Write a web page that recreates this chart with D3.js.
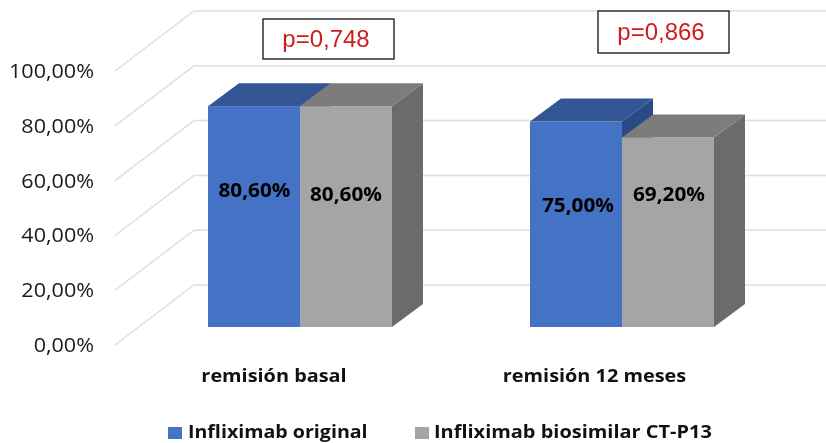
<!DOCTYPE html>
<html><head><meta charset="utf-8">
<script src="https://cdn.jsdelivr.net/npm/d3@7"></script>
<style>html,body{margin:0;padding:0;background:#fff}svg{display:block;filter:blur(0.35px)}</style>
</head><body><svg id="c" width="826" height="443"></svg>
<script>
const categories = ["remisión basal", "remisión 12 meses"];
const seriesNames = ["Infliximab original", "Infliximab biosimilar CT-P13"];
const original = [80.6, 75.0];
const biosimilar = [80.6, 69.2];
const valueLabels = [["80,60%", "80,60%"], ["75,00%", "69,20%"]];
const yTicks = [0, 20, 40, 60, 80, 100];
const pValues = ["p=0,748", "p=0,866"];

const W = 826, H = 443;
const svg = d3.select("#c");
const y = d3.scaleLinear().domain([0, 100]).range([345, 71]);
const x0 = d3.scaleOrdinal().domain(categories).range([208, 530]);
const barW = 92;
const wall = { dx: 79, dy: -60 };   // floor depth of the chart
const bar = { dx: 31, dy: -23, shiftY: -18 }; // depth of a bar, offset from the front edge
const colors = [
  { front: "#4472c4", top: "#335593", side: "#2a4a85" },
  { front: "#a5a5a5", top: "#7c7c7c", side: "#6b6b6b" }
];
const font = "'Open Sans',sans-serif";
// the reference's text is stretched horizontally
const stretch = (sel, k) => sel.each(function () {
  this.setAttribute("textLength", this.getComputedTextLength() * k);
  this.setAttribute("lengthAdjust", "spacingAndGlyphs");
});

// gridlines
const grid = svg.append("g").attr("fill", "none").attr("stroke", "#dfdfdf").attr("stroke-width", 1.5);
yTicks.forEach(t => {
  grid.append("path").attr("d", d3.line()([
    [115, y(t)], [115 + wall.dx, y(t) + wall.dy], [W, y(t) + wall.dy]
  ]));
});

// axis
const axis = d3.axisLeft(y).tickValues(yTicks).tickSize(0).tickPadding(0)
  .tickFormat(d => d3.format(".2f")(d).replace(".", ",") + "%");
const ax = svg.append("g").attr("transform", "translate(94,0)").call(axis);
ax.select(".domain").remove();
ax.selectAll("text").attr("font-family", font).attr("font-size", 19.5).attr("fill", "#1a1a1a").attr("dy", "0.33em")
  .call(stretch, 1.105);

// bars
const data = categories.map((c, i) => ({ c, i, v: [original[i], biosimilar[i]] }));
const base = y(0) + bar.shiftY;
const h = d3.scaleLinear().domain([0, 100]).range([0, y(0) - y(100)]);
const g = svg.append("g");
data.forEach(d => {
  [0, 1].forEach(s => {
    const xl = x0(d.c) + s * barW, xr = xl + barW, top = base - h(d.v[s]);
    const col = colors[s];
    g.append("polygon").attr("fill", col.side).attr("points", [
      [xr, top], [xr + bar.dx, top + bar.dy], [xr + bar.dx, base + bar.dy], [xr, base]
    ].join(" "));
    g.append("polygon").attr("fill", col.top).attr("points", [
      [xl, top], [xl + bar.dx, top + bar.dy], [xr + bar.dx, top + bar.dy], [xr, top]
    ].join(" "));
    g.append("rect").attr("x", xl).attr("y", top).attr("width", barW).attr("height", h(d.v[s])).attr("fill", col.front);
  });
});

// data labels (hand-placed in the original)
const labelAnchors = [[[254.5, 190], [346, 194]], [[578, 205], [669, 194]]];
data.forEach(d => [0, 1].forEach(s => {
  svg.append("text").attr("x", labelAnchors[d.i][s][0]).attr("y", labelAnchors[d.i][s][1])
    .attr("dy", "0.35em").attr("text-anchor", "middle")
    .attr("font-family", font).attr("font-weight", 700).attr("font-size", 19)
    .attr("fill", "#000").text(valueLabels[d.i][s]).call(stretch, 1.09);
}));

// category labels
const catX = [274, 594.5];
categories.forEach((c, i) => {
  svg.append("text").attr("x", catX[i]).attr("y", 376).attr("dy", "0.35em").attr("text-anchor", "middle")
    .attr("font-family", font).attr("font-weight", 700).attr("font-size", 17.5).attr("fill", "#111").text(c)
    .call(stretch, 1.135);
});

// p-value boxes
const pBoxes = [[263, 19, 131, 40], [598, 11, 131, 42]];
pValues.forEach((p, i) => {
  const b = pBoxes[i];
  svg.append("rect").attr("x", b[0]).attr("y", b[1]).attr("width", b[2]).attr("height", b[3])
    .attr("fill", "#fff").attr("stroke", "#111").attr("stroke-width", 1.3);
  svg.append("text").attr("x", b[0] + b[2] / 2 - 2.5).attr("y", b[1] + b[3] / 2).attr("dy", "0.35em")
    .attr("text-anchor", "middle").attr("font-family", "'Liberation Sans',sans-serif").attr("font-size", 24)
    .attr("fill", "#d01c1c").text(p);
});

// legend
const legendX = [168, 415];
seriesNames.forEach((n, i) => {
  svg.append("rect").attr("x", legendX[i]).attr("y", 427).attr("width", 14).attr("height", 12).attr("fill", colors[i].front);
  svg.append("text").attr("x", i ? 434 : 188).attr("y", 432).attr("dy", "0.35em")
    .attr("font-family", font).attr("font-weight", 700).attr("font-size", 17.5).attr("fill", "#111").text(n)
    .call(stretch, i ? 1.14 : 1.12);
});
</script></body></html>
